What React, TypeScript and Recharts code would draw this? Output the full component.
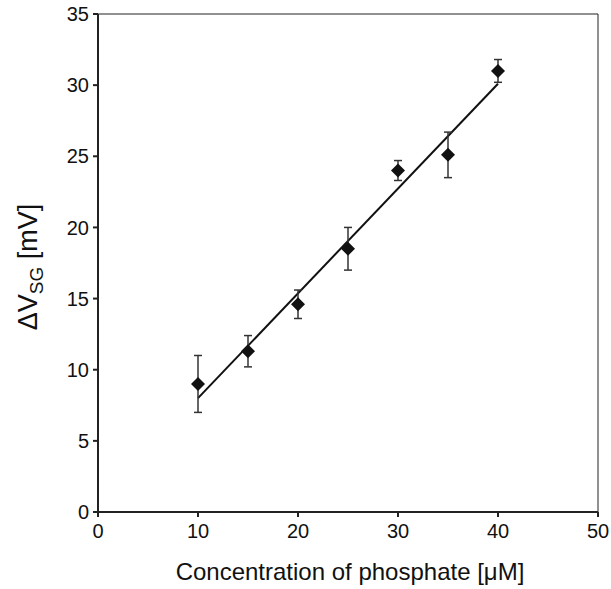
import * as React from 'react'
import {
    ComposedChart,
    Line,
    Scatter,
    XAxis,
    YAxis,
    ErrorBar,
    ReferenceLine,
} from 'recharts'

// values
const concentrations = [10, 15, 20, 25, 30, 35, 40]
const deltaV = [9.0, 11.3, 14.6, 18.5, 24.0, 25.1, 31.0]
const errLow = [2.0, 1.1, 1.0, 1.5, 0.7, 1.6, 0.8]
const errHigh = [2.0, 1.1, 1.0, 1.5, 0.7, 1.6, 0.8]
const fitX = [10, 40]
const fitY = [8.0, 30.1]
const xTicks = [0, 10, 20, 30, 40, 50]
const yTicks = [0, 5, 10, 15, 20, 25, 30, 35]

const FONT = '"Liberation Sans", Arial, Helvetica, sans-serif'

const Diamond = (props: any) => {
    const { cx, cy } = props
    if (cx == null || cy == null) return null
    const r = 7
    return (
        <polygon
            points={`${cx},${cy - r} ${cx + r},${cy} ${cx},${cy + r} ${cx - r},${cy}`}
            fill="#111"
        />
    )
}

const YLabel = () => {
    const x = 37
    const y = 267
    return (
        <text
            x={x}
            y={y}
            transform={`rotate(-90, ${x}, ${y})`}
            textAnchor="middle"
            fontFamily={FONT}
            fontSize={27}
            fill="#111"
        >
            <tspan>ΔV</tspan>
            <tspan fontSize={19} dy={6}>SG</tspan>
            <tspan dy={-6}> [mV]</tspan>
        </text>
    )
}

const XLabel = () => (
    <text x={350} y={580} textAnchor="middle" fontFamily={FONT} fontSize={24} fill="#111">
        Concentration of phosphate [μM]
    </text>
)

export default function App() {
    const points = React.useMemo(
        () =>
            concentrations.map((x, i) => ({
                x,
                y: deltaV[i],
                err: [errLow[i], errHigh[i]],
            })),
        []
    )
    const fit = React.useMemo(() => fitX.map((x, i) => ({ x, fit: fitY[i] })), [])

    const tick = { fontFamily: FONT, fontSize: 20, fill: '#111' }

    return (
        <div style={{ position: 'absolute', left: 0, top: 0, width: 611, height: 589, background: '#fff' }}>
            <ComposedChart
                width={611}
                height={589}
                margin={{ top: 14, right: 13, bottom: 0, left: 0 }}
            >
                <XAxis
                    type="number"
                    dataKey="x"
                    domain={[0, 50]}
                    ticks={xTicks}
                    tick={tick}
                    tickSize={5}
                    tickMargin={7}
                    height={77}
                    stroke="#222"
                    strokeWidth={2}
                    label={<XLabel />}
                />
                <YAxis
                    type="number"
                    domain={[0, 35]}
                    ticks={yTicks}
                    tick={tick}
                    tickSize={5}
                    tickMargin={4}
                    width={98}
                    stroke="#222"
                    strokeWidth={2}
                    label={<YLabel />}
                />
                <ReferenceLine y={35} stroke="#222" strokeWidth={1} />
                <ReferenceLine x={50} stroke="#222" strokeWidth={1} />
                <Line
                    data={fit}
                    dataKey="fit"
                    type="linear"
                    stroke="#111"
                    strokeWidth={2}
                    dot={false}
                    activeDot={false}
                    isAnimationActive={false}
                />
                <Scatter
                    data={points}
                    dataKey="y"
                    shape={<Diamond />}
                    isAnimationActive={false}
                >
                    <ErrorBar
                        dataKey="err"
                        direction="y"
                        width={4}
                        stroke="#333"
                        strokeWidth={1.5}
                        isAnimationActive={false}
                    />
                </Scatter>
            </ComposedChart>
        </div>
    )
}
